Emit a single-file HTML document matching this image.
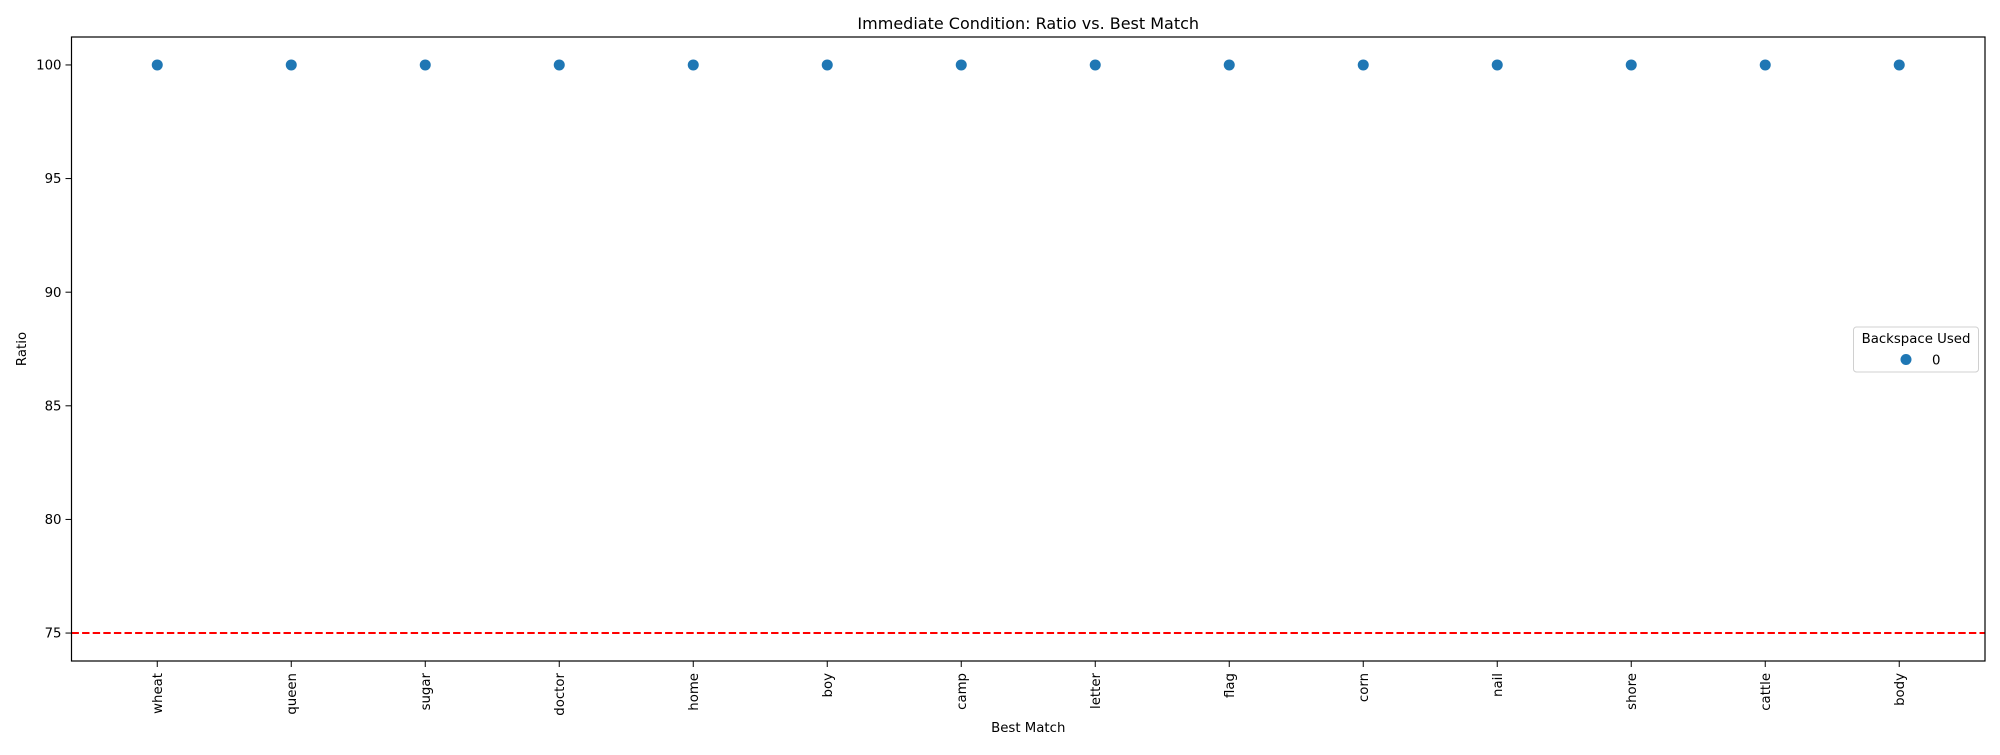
<!DOCTYPE html>
<html><head><meta charset="utf-8"><style>
body{margin:0;background:#fff;}
svg text{font-family:"DejaVu Sans","Liberation Sans",sans-serif;fill:#000;}
</style></head><body>
<svg width="2000" height="750" viewBox="0 0 2000 750" xmlns="http://www.w3.org/2000/svg">
<g id="plot"></g>
</svg>
<script>
const categories = ["wheat","queen","sugar","doctor","home","boy","camp","letter","flag","corn","nail","shore","cattle","body"];
const ratioValues = [100,100,100,100,100,100,100,100,100,100,100,100,100,100];
const yTicks = [75,80,85,90,95,100];
const thresholdValue = 75;

const L=71.5,R=1985,T=37,B=661;
const xMin=-0.64,xMax=13.64,yMin=73.77,yMax=101.23;
const xs=v=>L+(v-xMin)/(xMax-xMin)*(R-L);
const ys=v=>B-(v-yMin)/(yMax-yMin)*(B-T);
const NS="http://www.w3.org/2000/svg";
const g=document.getElementById('plot');
function mk(tag,attrs,parent){const e=document.createElementNS(NS,tag);for(const k in attrs)e.setAttribute(k,attrs[k]);(parent||g).appendChild(e);return e;}

const title=mk('text',{x:(L+R)/2,y:29,'text-anchor':'middle','font-size':16});
title.textContent='Immediate Condition: Ratio vs. Best Match';



const thr=mk('line',{x1:L,x2:R,y1:ys(thresholdValue),y2:ys(thresholdValue),stroke:'#ff0000','stroke-width':2,'stroke-dasharray':'7.4,3.2'});



yTicks.forEach(t=>{
  const y=ys(t);
  const tk=mk('line',{x1:L-6,x2:L,y1:y,y2:y,stroke:'#000','stroke-width':1});
  
  
  const tl=mk('text',{x:L-10,y:y+4.6,'text-anchor':'end','font-size':13.3});
  tl.textContent=t;
  
  
});

categories.forEach((c,i)=>{
  const x=xs(i);
  const tk=mk('line',{x1:x,x2:x,y1:B,y2:B+6,stroke:'#000','stroke-width':1});
  
  
  const tl=mk('text',{x:0,y:0,'text-anchor':'end','font-size':13.3,transform:`translate(${x+4.8},${B+12}) rotate(-90)`});
  tl.textContent=c;
  
  
  const p=mk('ellipse',{cx:x,cy:ys(ratioValues[i]),rx:5.5,ry:5.5,fill:'#1f77b4'});
  
  
});

const frame=mk('rect',{x:L,y:T,width:R-L,height:B-T,fill:'none',stroke:'#000','stroke-width':1.2});



const yl=mk('text',{x:0,y:0,'text-anchor':'middle','font-size':13.3,transform:`translate(26,${(T+B)/2}) rotate(-90)`});
yl.textContent='Ratio';


const xl=mk('text',{x:(L+R)/2,y:732,'text-anchor':'middle','font-size':13.3});
xl.textContent='Best Match';



const lg=mk('g',{});


const lb=mk('rect',{x:1853.5,y:327,width:125,height:45,rx:3,fill:'#fff','fill-opacity':0.8,stroke:'#d0d0d0','stroke-width':1},lg);


const lt=mk('text',{x:1916,y:343,'text-anchor':'middle','font-size':13.3},lg);
lt.textContent='Backspace Used';


const lm=mk('circle',{cx:1906,cy:359.5,r:5.5,fill:'#1f77b4'},lg);


const ll=mk('text',{x:1932,y:364.5,'font-size':13.3},lg);
ll.textContent='0';


</script>
</body></html>
